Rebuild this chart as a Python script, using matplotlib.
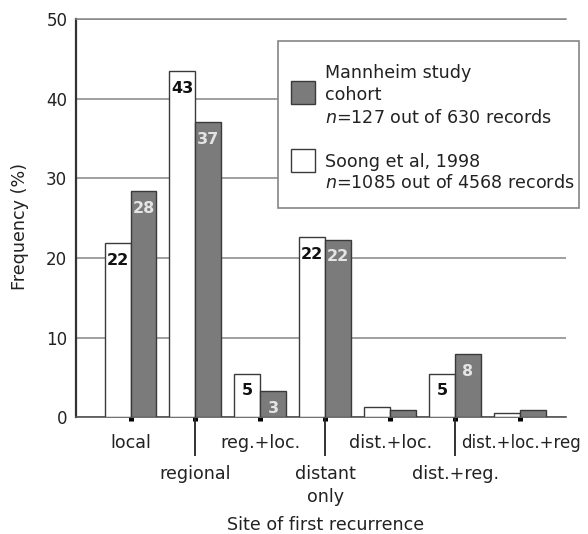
import matplotlib
matplotlib.use("Agg")
import matplotlib.pyplot as plt
from matplotlib.patches import Rectangle
import numpy as np

plt.rcParams['font.family'] = ['DejaVu Sans']
plt.rcParams['mathtext.fontset'] = 'dejavusans'

# ---------------- data ----------------
categories = ['local', 'regional', 'reg.+loc.', 'distant\nonly',
              'dist.+loc.', 'dist.+reg.', 'dist.+loc.+reg']
soong = [21.9, 43.5, 5.5, 22.6, 1.25, 5.5, 0.6]
mannheim = [28.4, 37.1, 3.3, 22.3, 0.9, 7.95, 0.9]
soong_labels = ['22', '43', '5', '22', '', '5', '']
mannheim_labels = ['28', '37', '3', '22', '', '8', '']
yticks = [0, 10, 20, 30, 40, 50]
legend_mannheim = ['Mannheim study', 'cohort', '$n$=127 out of 630 records']
legend_soong = ['Soong et al, 1998', '$n$=1085 out of 4568 records']

W, H, DPI = 588, 534, 100
FS = 12.6
GRAY = '#7b7b7b'
EDGE = '#3a3a3a'
GRID = '#858585'

fig = plt.figure(figsize=(W / DPI, H / DPI), dpi=DPI)
ax = fig.add_axes([76 / W, 1 - 417.3 / H, 490 / W, 398 / H])

x = np.arange(len(categories))
bw = 0.4
b1 = ax.bar(x - bw / 2, soong, bw, color='white', edgecolor=EDGE, linewidth=1.0, zorder=3)
b2 = ax.bar(x + bw / 2, mannheim, bw, color=GRAY, edgecolor=EDGE, linewidth=1.0, zorder=3)

for rect, lab in zip(b1, soong_labels):
    if lab:
        ax.annotate(lab, (rect.get_x() + rect.get_width() / 2, rect.get_height()),
                    xytext=(0, -12.3), textcoords='offset points', ha='center', va='center',
                    fontsize=11.5, fontweight='bold', color='#111111', zorder=5)
for rect, lab in zip(b2, mannheim_labels):
    if lab:
        ax.annotate(lab, (rect.get_x() + rect.get_width() / 2, rect.get_height()),
                    xytext=(0, -12.3), textcoords='offset points', ha='center', va='center',
                    fontsize=11.5, fontweight='bold', color='#e4e4e4', zorder=5)

ax.set_xlim(-0.84, 6.71)
ax.set_ylim(0, 50)
ax.set_yticks(yticks)
ax.set_yticklabels([str(v) for v in yticks], fontsize=12)
ax.tick_params(axis='y', length=0, pad=6.3, colors='#222222')
ax.yaxis.grid(True, color=GRID, linewidth=1.1)
ax.set_axisbelow(True)

# x ticks: small squares + long ticks for the lower row
ax.xaxis.remove_overlapping_locs = False
ax.set_xticks(x)
ax.set_xticklabels([])
ax.tick_params(axis='x', which='major', direction='out', length=3.0, width=3.6, color='black')
ax.set_xticks(x[1::2], minor=True)
ax.tick_params(axis='x', which='minor', direction='out', length=28, width=1.3, color='#222222')

for i, lab in enumerate(categories):
    if i == len(categories) - 1:
        ax.annotate(lab, (i, 0), xycoords=ax.get_xaxis_transform(),
                    xytext=(-59 * 0.72, -12), textcoords='offset points',
                    ha='left', va='top', fontsize=12.0, color='#222222', annotation_clip=False)
    else:
        off = -12 if i % 2 == 0 else -34.3
        ax.annotate(lab, (i, 0), xycoords=ax.get_xaxis_transform(),
                    xytext=(0, off), textcoords='offset points',
                    ha='center', va='top', fontsize=FS, color='#222222',
                    linespacing=1.35, multialignment='center', annotation_clip=False)

ax.spines['right'].set_visible(False)
ax.spines['top'].set_color(GRID)
ax.spines['top'].set_linewidth(1.1)
ax.spines['left'].set_color('#333333')
ax.spines['left'].set_linewidth(1.6)
ax.spines['bottom'].set_color('#555555')
ax.spines['bottom'].set_linewidth(1.2)

ax.set_ylabel('Frequency (%)', fontsize=FS, color='#222222')
ax.yaxis.set_label_coords(-0.095, 0.48)
fig.text(326 / W, 1 - 525 / H, 'Site of first recurrence', fontsize=FS,
         ha='center', va='center', color='#222222')

# ---------------- legend (manual) ----------------
def fx(px):
    return px / W

def fy(py):
    return 1 - py / H

fig.patches.append(Rectangle((fx(278), fy(208)), 301 / W, 167 / H, transform=fig.transFigure,
                             facecolor='white', edgecolor=GRID, linewidth=1.2, zorder=2))
fig.patches.append(Rectangle((fx(291), fy(103.7)), 23.7 / W, 23 / H, transform=fig.transFigure,
                             facecolor=GRAY, edgecolor=EDGE, linewidth=1.0, zorder=3))
fig.patches.append(Rectangle((fx(291), fy(172)), 23.7 / W, 23 / H, transform=fig.transFigure,
                             facecolor='white', edgecolor=EDGE, linewidth=1.0, zorder=3))
for line, yb in zip(legend_mannheim, [78.3, 100.0, 122.7]):
    fig.text(fx(325), fy(yb), line, fontsize=FS, va='baseline', ha='left', color='#222222', zorder=4)
for line, yb in zip(legend_soong, [166.7, 188.3]):
    fig.text(fx(325), fy(yb), line, fontsize=FS, va='baseline', ha='left', color='#222222', zorder=4)

fig.savefig('out.png', dpi=DPI, facecolor='white')
